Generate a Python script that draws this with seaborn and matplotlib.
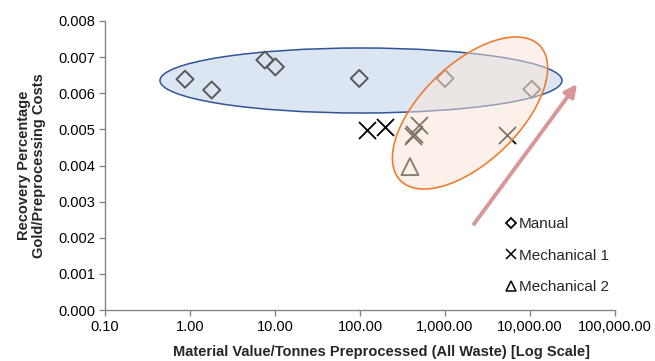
import matplotlib
matplotlib.use("Agg")
import matplotlib.pyplot as plt
import matplotlib.transforms as mtransforms
from matplotlib.patches import Ellipse
from matplotlib.lines import Line2D
from matplotlib.ticker import FuncFormatter, FixedLocator, NullLocator
import seaborn as sns
import pandas as pd

# ---- data ----
manual_x = [0.873, 1.80, 7.6, 10.1, 98, 1000, 10500]
manual_y = [0.00639, 0.00609, 0.00692, 0.00673, 0.00641, 0.00641, 0.00611]
mech1_x = [120, 197, 495, 435, 415, 5300]
mech1_y = [0.00498, 0.00507, 0.00512, 0.00487, 0.00482, 0.00484]
mech2_x = [387]
mech2_y = [0.00397]
series_names = ["Manual", "Mechanical 1", "Mechanical 2"]
x_ticks = [0.1, 1, 10, 100, 1000, 10000, 100000]
y_ticks = [0.000, 0.001, 0.002, 0.003, 0.004, 0.005, 0.006, 0.007, 0.008]

sns.set_style("white")
plt.rcParams["font.family"] = ["Liberation Sans", "DejaVu Sans"]
plt.rcParams["font.size"] = 10

fig = plt.figure(figsize=(6.55, 3.61), dpi=100)
ax = fig.add_axes([105 / 655, 1 - 310 / 361, 510 / 655, 289 / 361])

W, H = 510.0, 289.0  # axes size in pixels
px = mtransforms.Affine2D().scale(1 / W, 1 / H) + ax.transAxes

# blue ellipse (behind markers)
blue = Ellipse((256, 229.5), 402, 65, angle=0, transform=px,
               facecolor="#dce6f2", edgecolor="#2f5597", lw=1.1, zorder=1)
ax.add_patch(blue)

df_m = pd.DataFrame({"x": manual_x, "y": manual_y})
df_1 = pd.DataFrame({"x": mech1_x, "y": mech1_y})
df_2 = pd.DataFrame({"x": mech2_x, "y": mech2_y})

sns.scatterplot(data=df_m, x="x", y="y", ax=ax, marker="D", s=75,
                color="#595959", facecolor="none", edgecolor="#595959",
                linewidth=1.4, zorder=3)
sns.scatterplot(data=df_1, x="x", y="y", ax=ax, marker="x", s=150,
                color="#000000", linewidth=1.3, zorder=3)
sns.scatterplot(data=df_2, x="x", y="y", ax=ax, marker="^", s=150,
                color="#1a1a1a", facecolor="none", edgecolor="#1a1a1a",
                linewidth=1.4, zorder=3)

# orange ellipse (on top, semi-transparent fill)
orange = Ellipse((365, 197), 194, 98, angle=44, transform=px,
                 facecolor=(251 / 255, 229 / 255, 214 / 255, 0.5),
                 edgecolor="#ed7d31", lw=1.2, zorder=4)
ax.add_patch(orange)

# trend arrow
ax.annotate("", xy=(0.9255, 0.782), xytext=(0.7235, 0.2976),
            xycoords="axes fraction", textcoords="axes fraction",
            arrowprops=dict(arrowstyle="-|>,head_length=0.6,head_width=0.3",
                            lw=2.8, color="#d99694", mutation_scale=12,
                            shrinkA=0, shrinkB=0),
            zorder=5)

ax.set_xscale("log")
ax.set_xlim(0.1, 100000)
ax.set_ylim(0, 0.008)
ax.xaxis.set_major_locator(FixedLocator(x_ticks))
ax.xaxis.set_minor_locator(NullLocator())
ax.yaxis.set_major_locator(FixedLocator(y_ticks))
ax.xaxis.set_major_formatter(FuncFormatter(lambda v, p: f"{v:,.2f}"))
ax.yaxis.set_major_formatter(FuncFormatter(lambda v, p: f"{v:.3f}"))

for side in ["top", "right"]:
    ax.spines[side].set_visible(False)
for side in ["left", "bottom"]:
    ax.spines[side].set_color("#868686")
    ax.spines[side].set_linewidth(1.0)
ax.tick_params(axis="both", which="major", direction="out", length=4,
               width=1.0, color="#868686", labelsize=10.5, labelcolor="#000000",
               pad=3, left=True, bottom=True)

ax.set_xlabel("Material Value/Tonnes Preprocessed (All Waste) [Log Scale]",
              fontsize=10.5, fontweight="bold")
ax.xaxis.set_label_coords(0.543, -0.122)
ax.set_ylabel("Recovery Percentage\nGold/Preprocessing Costs",
              fontsize=10.5, fontweight="bold", linespacing=1.05)
ax.yaxis.set_label_coords(-0.116, 0.5)

handles = [
    Line2D([], [], marker="D", ls="none", markersize=5.5, markerfacecolor="none",
           markeredgecolor="#000000", markeredgewidth=1.3),
    Line2D([], [], marker="x", ls="none", markersize=6.5,
           markeredgecolor="#000000", markeredgewidth=1.1),
    Line2D([], [], marker="^", ls="none", markersize=6.5, markerfacecolor="none",
           markeredgecolor="#000000", markeredgewidth=1.1),
]
leg = ax.legend(handles, series_names, loc="upper left",
                bbox_to_anchor=((500 - 105) / W, (310 - 211) / H),
                frameon=False, fontsize=11, handlelength=0.6,
                handletextpad=0.25, labelspacing=1.15, borderaxespad=0)

fig.savefig("out.png", dpi=100)
